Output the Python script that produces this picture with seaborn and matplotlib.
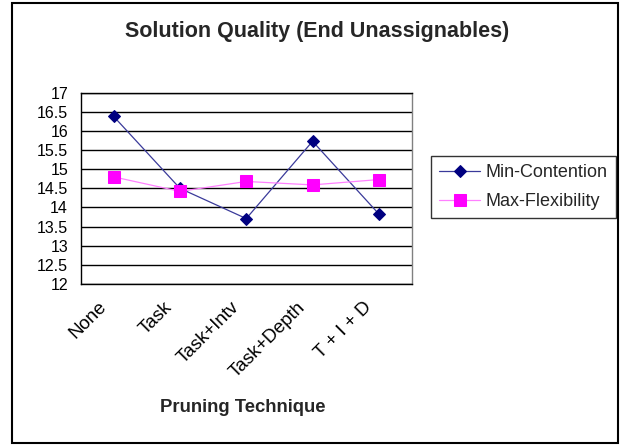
import matplotlib
matplotlib.use('Agg')
import matplotlib.pyplot as plt
import matplotlib.transforms as mtransforms
import seaborn as sns
import numpy as np
import pandas as pd
from matplotlib.patches import Rectangle

categories = ["None", "Task", "Task+Intv", "Task+Depth", "T + I + D"]
min_contention = [16.38, 14.50, 13.71, 15.73, 13.83]
max_flexibility = [14.80, 14.42, 14.68, 14.59, 14.73]
y_ticks = [12, 12.5, 13, 13.5, 14, 14.5, 15, 15.5, 16, 16.5, 17]
y_labels = ["12", "12.5", "13", "13.5", "14", "14.5", "15", "15.5", "16", "16.5", "17"]

sns.set_theme(style='white')
plt.rcParams['font.family'] = ['Liberation Sans', 'DejaVu Sans']

fig = plt.figure(figsize=(6.3, 4.45), dpi=100)
fig.patch.set_facecolor('white')
fig.patches.append(Rectangle((12 / 630, 1 - 443 / 445), 606 / 630, 440 / 445,
                             transform=fig.transFigure, fill=False,
                             edgecolor='black', linewidth=1.5, zorder=0))

ax = fig.add_axes([80.5 / 630, 1 - 284 / 445, (412 - 80.5) / 630, (284 - 92.7) / 445])

df = pd.DataFrame({"pos": np.arange(len(categories)),
                   "Min-Contention": min_contention,
                   "Max-Flexibility": max_flexibility})

sns.lineplot(data=df, x="pos", y="Min-Contention", ax=ax, color='#3A3A9A',
             linewidth=0.9, marker='D', markersize=6.5, markerfacecolor='#000080',
             markeredgecolor='#000080', label='Min-Contention', zorder=3)
sns.lineplot(data=df, x="pos", y="Max-Flexibility", ax=ax, color='#FF80FF',
             linewidth=0.9, marker='s', markersize=8.5, markerfacecolor='#FF00FF',
             markeredgecolor='#FF00FF', label='Max-Flexibility', zorder=3)

ax.set_xlim(-0.5, len(categories) - 0.5)
ax.set_ylim(12, 17)
ax.set_yticks(y_ticks)
ax.set_yticklabels(y_labels, fontsize=11.5)
ax.yaxis.grid(True, color='black', linewidth=1)
ax.xaxis.grid(False)
ax.set_axisbelow(True)

ax.set_xticks(np.arange(-0.5, len(categories), 1.0))
ax.set_xticklabels([])
ax.set_xticks(np.arange(len(categories)), minor=True)
ax.set_xticklabels(categories, minor=True, rotation=45, ha='right', va='center',
                   rotation_mode='anchor', fontsize=13.5)
ax.tick_params(axis='x', which='major', direction='out', length=5, width=1, colors='black')
ax.tick_params(axis='x', which='minor', length=0, pad=12)
ax.tick_params(axis='y', direction='out', length=5, width=1, colors='black', pad=4)
offset = mtransforms.ScaledTranslation(-10 / 100, -4 / 100, fig.dpi_scale_trans)
for lbl in ax.get_xticklabels(minor=True):
    lbl.set_transform(lbl.get_transform() + offset)
    lbl.set_color('black')
for lbl in ax.get_yticklabels():
    lbl.set_color('black')

ax.set_xlabel('')
ax.set_ylabel('')
for s in ['left', 'bottom', 'top']:
    ax.spines[s].set_color('black')
    ax.spines[s].set_linewidth(1)
ax.spines['right'].set_color('#808080')
ax.spines['right'].set_linewidth(1)

leg = ax.legend(loc='upper left', bbox_to_anchor=(430.7 / 630, 1 - 156 / 445),
                bbox_transform=fig.transFigure, frameon=True, fancybox=False,
                edgecolor='black', fontsize=13, borderaxespad=0,
                handlelength=2.3, handletextpad=0.3, borderpad=0.45, labelspacing=0.65)
leg.get_frame().set_linewidth(1)

fig.text(0.503, 1 - 32 / 445, 'Solution Quality (End Unassignables)',
         ha='center', va='center', fontsize=15.5, fontweight='bold')
fig.text(243 / 630, 1 - 407 / 445, 'Pruning Technique',
         ha='center', va='center', fontsize=13.3, fontweight='bold')

fig.savefig('out.png', dpi=100)
